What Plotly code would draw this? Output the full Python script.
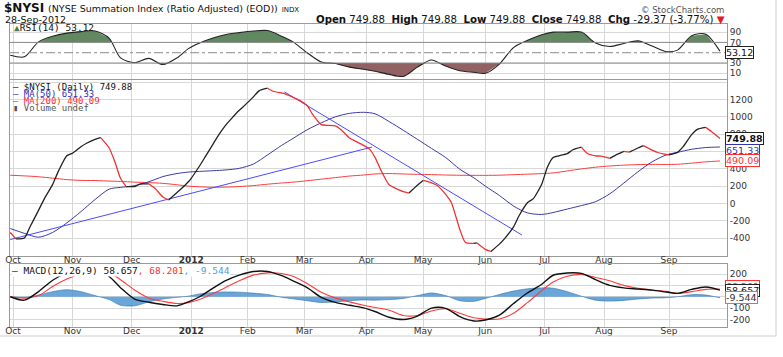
import numpy as np
import pandas as pd
import plotly.graph_objects as go

# ---------------- data ----------------
holidays = ["2011-11-24", "2011-12-26", "2012-01-02", "2012-01-16", "2012-02-20",
            "2012-04-06", "2012-05-28", "2012-07-04", "2012-09-03"]

week_dates = [d.strftime("%Y-%m-%d") for d in pd.date_range("2011-09-30", "2012-09-28", freq="W-FRI")]
week_dates = ["2012-04-05" if d == "2012-04-06" else d for d in week_dates]
tue_dates = [d.strftime("%Y-%m-%d") for d in pd.date_range("2011-10-04", "2012-09-25", freq="W-TUE")]
price_dates = sorted(week_dates + tue_dates)

nysi = [-335, -410, -400, -270, -80, 50, 220, 370, 550, 580,
        655, 695, 740, 760, 640, 480, 290, 195, 195, 225,
        225, 180, 75, 40, 127, 155, 250, 290, 435, 540,
        700, 755, 895, 970, 1075, 1135, 1230, 1300, 1330, 1295,
        1275, 1268, 1225, 1195, 1130, 1025, 910, 902, 895, 850,
        755, 720, 670, 630, 532, 390, 215, 180, 135, 120,
        210, 265, 238, 208, 105, 10, -300, -452, -462, -455,
        -530, -555, -470, -400, -270, -140, 10, 55, 225, 420,
        530, 550, 575, 620, 650, 580, 550, 545, 520, 555,
        600, 592, 640, 668, 615, 588, 565, 560, 590, 655,
        795, 855, 878, 830, 749.88]

ma50 = [-290, -345, -390, -335, -225, -95, 45, 165, 185, 205,
        250, 310, 345, 362, 370, 378, 386, 405, 455, 560,
        670, 750, 850, 930, 1000, 1040, 1052, 1035, 945, 845,
        740, 635, 530, 395, 295, 200, 92, -30, -110, -127,
        -105, -65, -25, 20, 110, 235, 365, 480, 560, 590,
        625, 645, 651.33]

ma200 = [325, 318, 308, 292, 275, 266, 264, 258, 254, 246,
         240, 232, 215, 200, 192, 186, 188, 195, 206, 222,
         236, 245, 262, 280, 298, 316, 328, 340, 345, 340,
         336, 333, 328, 325, 324, 324, 326, 332, 338, 344,
         352, 375, 398, 418, 432, 442, 448, 451, 450, 452,
         465, 480, 490.09]

rsi = [45, 42, 71, 82, 88, 91, 92, 78, 40, 30.5,
       39, 27, 40, 58, 69, 79, 85, 89, 92, 93,
       82, 71, 50, 32, 29, 22, 18, 14, 8, 4,
       22, 36, 24, 15, 12, 10, 28, 60, 74, 85,
       90, 90, 90, 69, 62, 68, 73, 63, 52, 55,
       83, 86, 53.12]

macd = [0, -30, 45, 145, 210, 240, 240, 178, 80, -20,
        -48, -68, -80, -45, 0, 80, 140, 190, 222, 222,
        185, 140, 80, -5, -50, -75, -98, -130, -180, -200,
        -170, -100, -102, -175, -213, -205, -162, -60, 35, 110,
        189, 209, 205, 150, 100, 78, 68, 58, 42, 30,
        65, 86, 58.657]

signal = [0, -12, 10, 90, 155, 205, 225, 210, 150, 60,
          -10, -40, -60, -52, -25, 30, 80, 140, 190, 210,
          205, 180, 116, 40, -10, -45, -75, -95, -118, -165,
          -165, -125, -106, -145, -185, -197, -195, -145, -50, 55,
          130, 180, 197, 170, 140, 100, 75, 60, 48, 30,
          45, 65, 68.201]

hist = [0, -8, 15, 45, 62, 45, 10, -25, -75, -80,
        -45, -20, -5, 5, 25, 38, 42, 40, 32, 20,
        -5, -18, -35, -50, -45, -35, -28, -30, -25, -15,
        10, 33, 10, -35, -40, -15, 20, 50, 70, 78,
        75, 45, 5, -30, -38, -32, -20, -12, -8, 0,
        18, 15, -9.544]

trend_up_dates = ["2011-09-30", "2012-04-04"]
trend_up_vals = [-417, 651]
trend_down_dates = ["2012-02-21", "2012-06-20"]
trend_down_vals = [1287, -365]

rsi_levels = [30, 70]
chg, chg_pct = -29.37, -3.77

month_ticks = ["2011-10-03", "2011-11-01", "2011-12-01", "2012-01-03", "2012-02-01", "2012-03-01",
               "2012-04-02", "2012-05-01", "2012-06-01", "2012-07-02", "2012-08-01", "2012-09-04"]
month_labels = ["Oct", "Nov", "Dec", "<b>2012</b>", "Feb", "Mar", "Apr", "May", "Jun", "Jul", "Aug", "Sep"]

assert len(nysi) == len(price_dates)
for arr in (ma50, ma200, rsi, macd, signal, hist):
    assert len(arr) == len(week_dates)

# ---------------- helpers ----------------
W, H = 783, 357
PL, PR = 10, 727
tdays = [d for d in pd.bdate_range("2011-09-20", "2012-10-15") if d.strftime("%Y-%m-%d") not in holidays]
tpos = {d.strftime("%Y-%m-%d"): i for i, d in enumerate(tdays)}


def pos_to_time(p):
    i = int(np.floor(p))
    return tdays[i] + pd.Timedelta(days=p - i)


def clip_fill(dates, vals, level, above):
    xs, ys = [], []
    for k in range(len(vals)):
        if k > 0:
            v0, v1 = vals[k - 1], vals[k]
            if (v0 - level) * (v1 - level) < 0:
                p0, p1 = tpos[dates[k - 1]], tpos[dates[k]]
                t = (level - v0) / (v1 - v0)
                xs.append(pos_to_time(p0 + t * (p1 - p0)))
                ys.append(level)
        xs.append(pd.Timestamp(dates[k]))
        ys.append(max(vals[k], level) if above else min(vals[k], level))
    return xs, ys


def runs(dates, vals, up):
    xs, ys, prev_in = [], [], False
    for k in range(1, len(vals)):
        seg_up = vals[k] >= vals[k - 1]
        if seg_up == up:
            if not prev_in:
                if xs:
                    xs.append(None); ys.append(None)
                xs.append(dates[k - 1]); ys.append(vals[k - 1])
            xs.append(dates[k]); ys.append(vals[k])
            prev_in = True
        else:
            prev_in = False
    return xs, ys


def px(x):
    return (x - PL) / (PR - PL)


def py(y):
    return 1 - y / H


# ---------------- figure ----------------
fig = go.Figure()
SM = 0.8

# RSI panel
for level, above, col in [(70, True, "rgba(88,130,88,0.95)"), (30, False, "rgba(140,90,90,0.95)")]:
    fx, fy = clip_fill(week_dates, rsi, level, above)
    fig.add_trace(go.Scatter(x=fx, y=[level] * len(fx), mode="lines", line=dict(width=0),
                             xaxis="x", yaxis="y", hoverinfo="skip"))
    fig.add_trace(go.Scatter(x=fx, y=fy, mode="lines", line=dict(width=0), fill="tonexty",
                             fillcolor=col, xaxis="x", yaxis="y", hoverinfo="skip"))
fig.add_trace(go.Scatter(x=week_dates, y=rsi, mode="lines", line=dict(color="#222", width=1.1, shape="spline", smoothing=SM),
                         xaxis="x", yaxis="y"))

# main panel
fig.add_trace(go.Scatter(x=week_dates, y=ma200, mode="lines", line=dict(color="#ff3b3b", width=1, shape="spline", smoothing=SM),
                         xaxis="x2", yaxis="y2"))
fig.add_trace(go.Scatter(x=week_dates, y=ma50, mode="lines", line=dict(color="#3a3aa8", width=1, shape="spline", smoothing=SM),
                         xaxis="x2", yaxis="y2"))
fig.add_trace(go.Scatter(x=trend_up_dates, y=trend_up_vals, mode="lines", line=dict(color="#4b4bff", width=1),
                         xaxis="x2", yaxis="y2"))
fig.add_trace(go.Scatter(x=trend_down_dates, y=trend_down_vals, mode="lines", line=dict(color="#4b4bff", width=1),
                         xaxis="x2", yaxis="y2"))
bx, by = runs(price_dates, nysi, True)
rx, ry = runs(price_dates, nysi, False)
fig.add_trace(go.Scatter(x=bx, y=by, mode="lines", line=dict(color="#222", width=1.3, shape="spline", smoothing=0.6),
                         xaxis="x2", yaxis="y2", connectgaps=False))
fig.add_trace(go.Scatter(x=rx, y=ry, mode="lines", line=dict(color="#ee3333", width=1.3, shape="spline", smoothing=0.6),
                         xaxis="x2", yaxis="y2", connectgaps=False))

# MACD panel
fig.add_trace(go.Scatter(x=week_dates, y=hist, mode="lines", fill="tozeroy", fillcolor="rgba(80,150,210,0.85)",
                         line=dict(color="#2f6ea8", width=0.6, shape="spline", smoothing=SM), xaxis="x3", yaxis="y3"))
fig.add_trace(go.Scatter(x=week_dates, y=signal, mode="lines", line=dict(color="#ff3b3b", width=1.1, shape="spline", smoothing=SM),
                         xaxis="x3", yaxis="y3"))
fig.add_trace(go.Scatter(x=week_dates, y=macd, mode="lines", line=dict(color="#111", width=1.4, shape="spline", smoothing=SM),
                         xaxis="x3", yaxis="y3"))

# ---------------- axes ----------------
tickfont = dict(family="DejaVu Sans", size=9, color="#333")
xcommon = dict(type="date", range=["2011-09-29 22:00", "2012-10-02 12:00"],
               rangebreaks=[dict(bounds=["sat", "mon"]), dict(values=holidays)],
               tickvals=month_ticks, ticktext=month_labels, tickfont=tickfont, ticks="", ticklen=0,
               ticklabelstandoff=-5,
               showgrid=True, gridcolor="#d8d8d8", gridwidth=1, zeroline=False,
               showline=True, linecolor="#9a9a9a", linewidth=1, mirror=True, automargin=False)
ycommon = dict(side="right", ticks="", ticklen=0, tickfont=tickfont, showgrid=True, gridcolor="#d8d8d8", gridwidth=1,
               zeroline=False, showline=True, linecolor="#9a9a9a", linewidth=1, mirror=True, automargin=False)

fig.update_layout(
    xaxis=dict(xcommon, anchor="y", domain=[0, 1], showticklabels=False),
    xaxis2=dict(xcommon, anchor="y2", domain=[0, 1], matches="x", showticklabels=True),
    xaxis3=dict(xcommon, anchor="y3", domain=[0, 1], matches="x", showticklabels=True),
    yaxis=dict(ycommon, anchor="x", domain=[py(79), py(24)], range=[-1, 105.7], tickvals=[10, 30, 70, 90]),
    yaxis2=dict(ycommon, anchor="x2", domain=[py(256), py(80)], range=[-607, 1425],
                tickvals=[-600, -400, -200, 0, 200, 400, 600, 800, 1000, 1200, 1400],
                ticktext=["", "-400", "-200", "0", "200", "400", "600", "800", "1000", "1200", ""]),
    yaxis3=dict(ycommon, anchor="x3", domain=[py(327), py(264)], range=[-266, 288],
                tickvals=[-200, -100, 0, 100, 200], ticktext=["-200", "-100", "", "100", "200"]),
    width=W, height=H, margin=dict(l=PL, r=W - PR, t=0, b=0),
    paper_bgcolor="white", plot_bgcolor="white", showlegend=False,
)

# ---------------- shapes ----------------
shapes = []
for lv in rsi_levels:
    shapes.append(dict(type="line", xref="paper", yref="y", x0=0, x1=1, y0=lv, y1=lv,
                       line=dict(color="#8c8c8c", width=1)))
shapes.append(dict(type="line", xref="paper", yref="y", x0=0, x1=1, y0=50, y1=50,
                   line=dict(color="#8c8c8c", width=1, dash="dashdot")))
shapes.append(dict(type="line", xref="paper", yref="paper", x0=px(776), x1=px(776), y0=py(336), y1=py(0),
                   line=dict(color="#cfcfcf", width=1)))
shapes.append(dict(type="line", xref="paper", yref="paper", x0=px(0), x1=px(776), y0=py(336), y1=py(336),
                   line=dict(color="#cfcfcf", width=1)))
fig.update_layout(shapes=shapes)

# ---------------- annotations ----------------
ann = []


def text(t, x, y, xanchor="left", size=9, color="#111", family="DejaVu Sans", bg=None):
    d = dict(text=t, xref="paper", yref="paper", x=px(x), y=py(y), xanchor=xanchor, yanchor="middle",
             showarrow=False, font=dict(family=family, size=size, color=color))
    if bg:
        d["bgcolor"] = bg
        d["borderpad"] = 0
    ann.append(d)


last = nysi[-1]
sp = "&nbsp;&nbsp;"
text("<b>$NYSI</b> <span style='font-size:9.5px'>(NYSE Summation Index (Ratio Adjusted) (EOD))</span>"
     " <span style='font-size:7px'>INDX</span>", 2, 8, size=12)
text("28-Sep-2012", 3, 19, size=9.5)
text(f"<b>Open</b> {last:.2f}{sp}<b>High</b> {last:.2f}{sp}<b>Low</b> {last:.2f}{sp}<b>Close</b> {last:.2f}{sp}"
     f"<b>Chg</b> {chg:.2f} ({chg_pct:.2f}%) <span style='color:#e02020'>▼</span>", 727, 19, xanchor="right",
     size=10.2)
text("© StockCharts.com", 726, 10, xanchor="right", size=8.5, color="#555")

mono = "DejaVu Sans Mono"
text(f"<span style='color:#4d7a4d'>▲</span>RSI(14) {rsi[-1]:.2f}", 12, 28, size=9.5, family=mono)
text(f"— $NYSI (Daily) {last:.2f}", 11, 87, size=9, family=mono, color="#111")
text(f"— MA(50) {ma50[-1]:.2f}", 11, 94, size=9, family=mono, color="#3333b0")
text(f"— MA(200) {ma200[-1]:.2f}", 11, 101, size=9, family=mono, color="#ff2a2a")
text("▮ Volume undef", 11, 108, size=9, family=mono, color="#555")
text(f"— MACD(12,26,9) {macd[-1]:.3f}<span style='color:#ff3030'>, {signal[-1]:.3f}</span>"
     f"<span style='color:#4aa0e0'>, {hist[-1]:.3f}</span>", 11, 270, size=9.5, family=mono, color="#111",
     bg="white")


def tag(t, yref, yval, border, color, yshift=0):
    ann.append(dict(text=t, xref="paper", x=1, xanchor="left", xshift=-2, yref=yref, y=yval, yanchor="middle",
                    yshift=yshift, showarrow=False, bgcolor="white", bordercolor=border, borderwidth=1, borderpad=0,
                    font=dict(family="DejaVu Sans", size=9.5, color=color)))


tag(f"{rsi[-1]:.2f}", "y", rsi[-1], "#222", "#111", yshift=-1)
tag(f"<b>{last:.2f}</b>", "y2", last, "#222", "#111")
tag(f"{ma50[-1]:.2f}", "y2", ma50[-1], "#3333b0", "#3333b0", yshift=-3)
tag(f"{ma200[-1]:.2f}", "y2", ma200[-1], "#ff3030", "#ff3030")
tag(f"{signal[-1]:.3f}", "y3", signal[-1], "#ff3030", "#ff3030", yshift=3)
tag(f"{macd[-1]:.3f}", "y3", macd[-1], "#222", "#111")
tag(f"{hist[-1]:.3f}", "y3", hist[-1], "#5b9bd5", "#333")

fig.update_layout(annotations=ann)
fig.write_html("out.html", config={"displayModeBar": False},
               post_script="document.body.style.margin='0';document.body.style.overflow='hidden';")
